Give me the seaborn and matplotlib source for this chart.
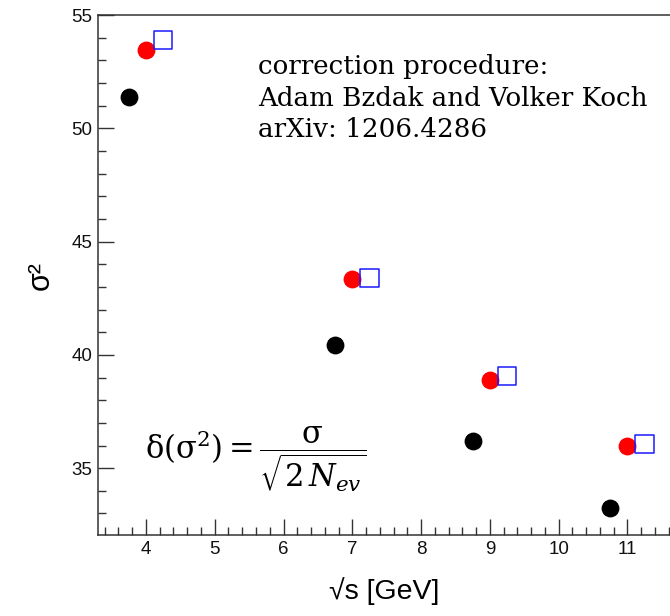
import numpy as np
import pandas as pd
import seaborn as sns
import matplotlib.pyplot as plt
from matplotlib.ticker import MultipleLocator

# values
energy_raw = [3.75, 6.75, 8.75, 10.75]
sigma2_raw = [51.4, 40.45, 36.2, 33.25]

energy_corr = [4.0, 7.0, 9.0, 11.0]
sigma2_corr = [53.45, 43.37, 38.88, 35.97]

energy_model = [4.25, 7.25, 9.25, 11.25]
sigma2_model = [53.9, 43.4, 39.07, 36.07]

sns.set_style('ticks')
plt.rcParams['font.family'] = ['Liberation Sans', 'DejaVu Sans']
plt.rcParams['mathtext.fontset'] = 'dejavuserif'
plt.rcParams['text.color'] = 'black'
plt.rcParams['axes.labelcolor'] = 'black'

raw_df = pd.DataFrame({'energy': energy_raw, 'sigma2': sigma2_raw})
corr_df = pd.DataFrame({'energy': energy_corr, 'sigma2': sigma2_corr})
model_df = pd.DataFrame({'energy': energy_model, 'sigma2': sigma2_model})

fig = plt.figure(figsize=(6.7, 6.16), dpi=100)
ax = fig.add_axes([0.146, 0.1315, 0.854, 0.8441])

sns.scatterplot(data=raw_df, x='energy', y='sigma2', ax=ax, color='black',
                marker='o', s=165, edgecolor='black', linewidth=0, zorder=3)
sns.scatterplot(data=corr_df, x='energy', y='sigma2', ax=ax, color='red',
                marker='o', s=165, edgecolor='red', linewidth=0, zorder=3)
sns.scatterplot(data=model_df, x='energy', y='sigma2', ax=ax, facecolor='none',
                marker='s', s=180, edgecolor='#1a1aff', linewidth=1.1, zorder=4)

ax.set_xlim(3.3, 11.62)
ax.set_ylim(32.05, 55)

ax.xaxis.set_major_locator(MultipleLocator(1))
ax.xaxis.set_minor_locator(MultipleLocator(0.2))
ax.yaxis.set_major_locator(MultipleLocator(5))
ax.yaxis.set_minor_locator(MultipleLocator(1))
ax.tick_params(which='major', direction='in', length=11.5, width=1, labelsize=13.5,
               color='#333333', labelcolor='#111111', pad=4)
ax.tick_params(which='minor', direction='in', length=5.8, width=1, color='#333333')
ax.tick_params(axis='x', which='both', top=False)
ax.tick_params(axis='y', which='both', right=False)

for side in ['left', 'bottom', 'top']:
    ax.spines[side].set_linewidth(1.1)
    ax.spines[side].set_color('#333333')
ax.spines['right'].set_visible(False)

ax.set_xlabel('√s [GeV]', fontsize=20.5, labelpad=14)
ax.set_ylabel('σ²', fontsize=22, labelpad=11)

ax.text(0.28, 0.925, 'correction procedure:\nAdam Bzdak and Volker Koch\narXiv: 1206.4286',
        transform=ax.transAxes, family='DejaVu Serif', fontsize=18.8,
        va='top', ha='left', linespacing=1.33, color='black')

ax.text(0.082, 0.145,
        r'$\mathrm{\delta}\left(\mathrm{\sigma}^2\right)=\dfrac{\mathrm{\sigma}}{\sqrt{2\,N_{ev}}}$',
        transform=ax.transAxes, fontsize=22, va='center', ha='left', color='black')

fig.savefig('out.png', dpi=100)
